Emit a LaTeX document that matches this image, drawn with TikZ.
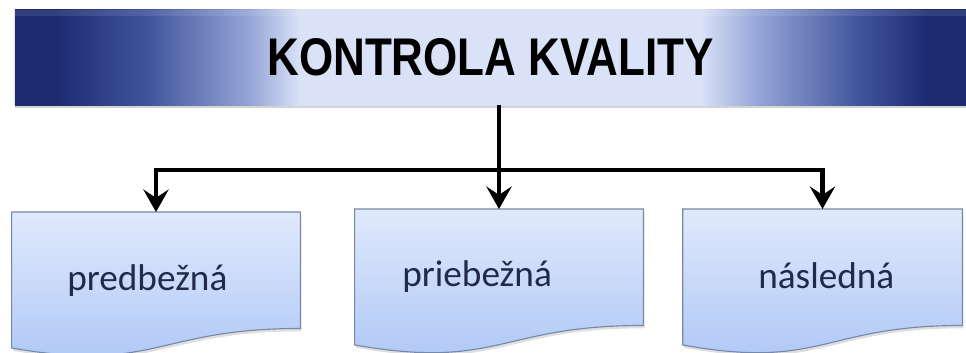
\documentclass[tikz,border=0pt]{standalone}
\usepackage{fontspec}
\usepackage{graphicx}
\usepackage{tikz}
\usetikzlibrary{arrows.meta, positioning, calc, shadows}
\newfontfamily\nadpisfont{Liberation Sans}
\newfontfamily\popisfont{Carlito}
\definecolor{tmavomodra}{RGB}{28,42,112}
\definecolor{strednamodra}{RGB}{64,84,156}
\definecolor{polomodra}{RGB}{150,166,215}
\definecolor{svetlamodra}{RGB}{218,226,248}
\definecolor{boxhore}{RGB}{224,233,252}
\definecolor{boxdole}{RGB}{172,198,245}
\definecolor{okraj}{RGB}{118,136,170}
\definecolor{pismo}{RGB}{33,43,72}
\pgfdeclarehorizontalshading{pruh}{100bp}{color(0bp)=(tmavomodra); color(27bp)=(tmavomodra); color(32bp)=(strednamodra); color(37.4bp)=(polomodra); color(40bp)=(svetlamodra); color(61bp)=(svetlamodra); color(64bp)=(polomodra); color(69.4bp)=(strednamodra); color(73bp)=(tmavomodra); color(100bp)=(tmavomodra)}
% obrys dokumentu s vlnitym spodkom
\newcommand{\dokobrys}[1]{%
  \path[dokvypln] (#1.north west) -- (#1.north east)
    -- ($(#1.north east)!0.8!(#1.south east)$)
    .. controls ($(#1.north)!0.8!(#1.south)$) and ($(#1.north)!1.107!(#1.south)$)
    .. ($(#1.north west)!0.934!(#1.south west)$) -- cycle;}
\tikzset{
  pruhnadpis/.style={shading=pruh, minimum width=23.775cm, minimum height=2.375cm, inner sep=0pt,
    drop shadow={shadow xshift=0pt, shadow yshift=-2pt, opacity=0.35},
    font=\nadpisfont\bfseries\fontsize{37.7}{40}\selectfont},
  dokument/.style={minimum height=3.625cm, anchor=north, inner sep=0pt},
  dokvypln/.style={top color=boxhore, bottom color=boxdole, draw=okraj, line width=0.8pt,
    drop shadow={shadow xshift=1pt, shadow yshift=-2pt, opacity=0.25}},
  popisok/.style={anchor=base west, text=pismo, inner sep=0pt,
    font=\popisfont\fontsize{26.5}{30}\selectfont},
  spoj/.style={line width=3pt},
  sipka/.style={spoj, -{Stealth[length=16pt, width=18pt, inset=6pt]}},
}
\begin{document}
\begin{tikzpicture}[x=0.025cm, y=-0.025cm]
  \useasboundingbox (0,0) rectangle (966,353);

  % Nadpis
  \node[pruhnadpis] (kontrola) at (490.5,57.5) {\scalebox{0.83}[1]{KONTROLA KVALITY}};
  \fill[white, opacity=0.1] (kontrola.north west) rectangle ($(kontrola.north east)+(0,6)$);

  % Dokumenty
  \node[dokument, minimum width=7.2cm]   (predbezna) at (156,212) {};
  \node[dokument, minimum width=7.2cm]   (priebezna) at (499,209) {};
  \node[dokument, minimum width=6.975cm] (nasledna)  at (822.5,209) {};
  \dokobrys{predbezna}
  \dokobrys{priebezna}
  \dokobrys{nasledna}

  % Popisy
  \node[popisok] (t-predbezna) at (67,290)  {predbežná};
  \node[popisok] (t-priebezna) at (402,287) {priebežná};
  \node[popisok] (t-nasledna)  at (758,288) {následná};

  % Spojnice
  \coordinate (rozvetvenie) at (499,170);
  \draw[spoj] (kontrola.south -| rozvetvenie) -- (rozvetvenie);
  \draw[sipka] (rozvetvenie) -| (predbezna.north);
  \draw[sipka] (rozvetvenie) -- (priebezna.north);
  \draw[sipka] (rozvetvenie) -| (nasledna.north);

\end{tikzpicture}
\end{document}
